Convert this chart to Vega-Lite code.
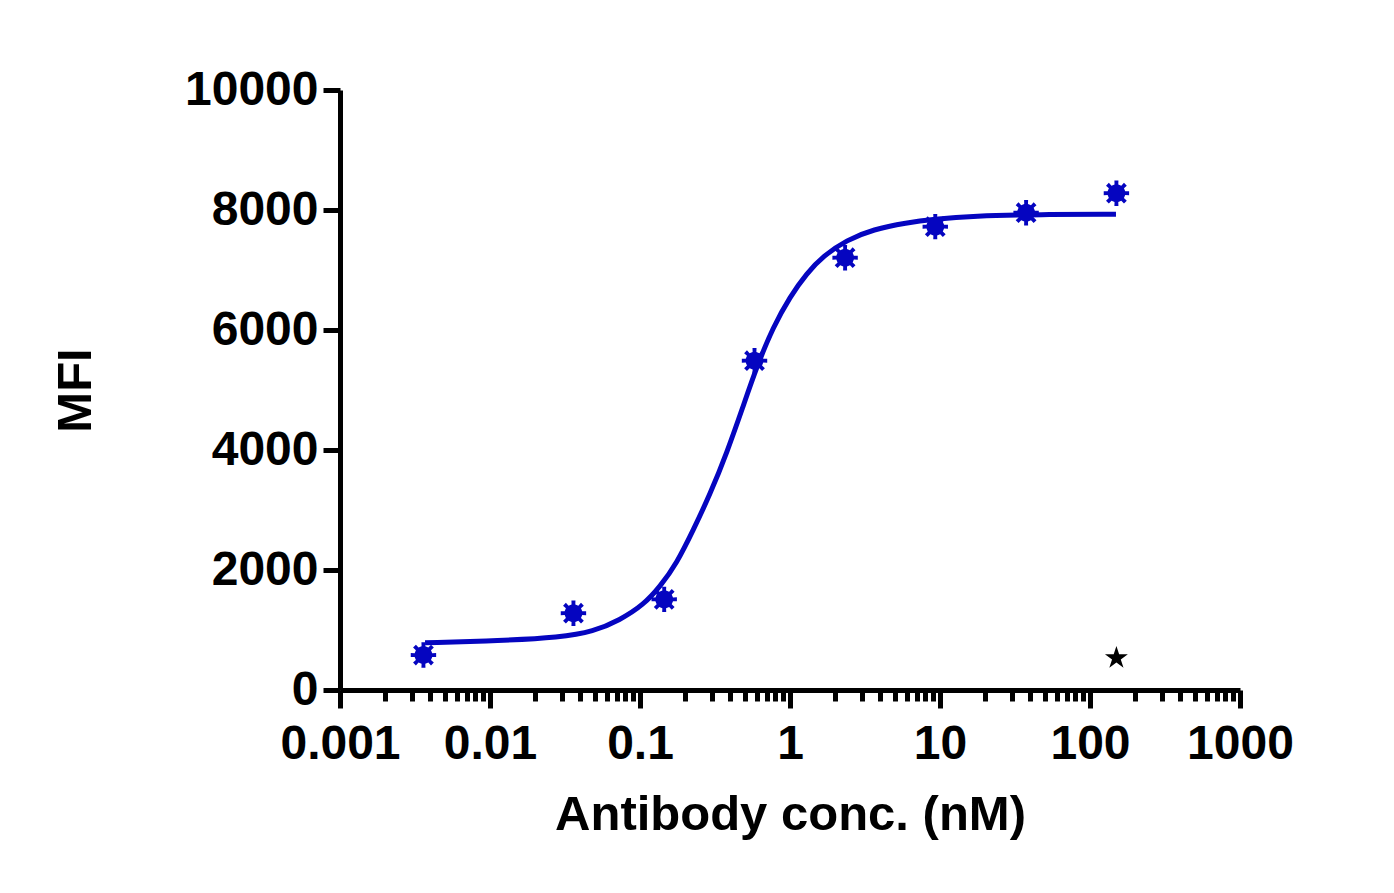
{
  "$schema": "https://vega.github.io/schema/vega-lite/v6.json",
  "width": 900,
  "height": 600,
  "autosize": {"type": "none"},
  "padding": {"left": 340, "top": 90, "right": 154, "bottom": 203},
  "background": "white",
  "config": {
    "view": {"stroke": null},
    "axis": {
      "grid": false,
      "domainColor": "black",
      "domainWidth": 5,
      "tickColor": "black",
      "tickWidth": 5,
      "labelColor": "black",
      "labelFont": "Liberation Sans",
      "labelFontWeight": "bold",
      "labelFontSize": 48,
      "titleColor": "black",
      "titleFont": "Liberation Sans",
      "titleFontWeight": "bold",
      "titleFontSize": 49
    }
  },
  "datasets": {
    "curve": [
      {"conc": 0.00369, "mfi": 788},
      {"conc": 0.01166, "mfi": 822},
      {"conc": 0.0293, "mfi": 878},
      {"conc": 0.04884, "mfi": 972},
      {"conc": 0.07356, "mfi": 1167},
      {"conc": 0.1052, "mfi": 1417},
      {"conc": 0.1359, "mfi": 1722},
      {"conc": 0.1757, "mfi": 2111},
      {"conc": 0.2266, "mfi": 2667},
      {"conc": 0.2929, "mfi": 3260},
      {"conc": 0.3802, "mfi": 3960},
      {"conc": 0.486, "mfi": 4722},
      {"conc": 0.6026, "mfi": 5400},
      {"conc": 0.7738, "mfi": 6055},
      {"conc": 1.0, "mfi": 6555},
      {"conc": 1.292, "mfi": 6945},
      {"conc": 1.667, "mfi": 7235},
      {"conc": 2.388, "mfi": 7500},
      {"conc": 3.592, "mfi": 7678},
      {"conc": 6.0, "mfi": 7788},
      {"conc": 9.0, "mfi": 7845},
      {"conc": 16.68, "mfi": 7900},
      {"conc": 46.4, "mfi": 7925},
      {"conc": 149, "mfi": 7930}
    ],
    "points": [
      {"conc": 0.0036, "mfi": 583},
      {"conc": 0.036, "mfi": 1280},
      {"conc": 0.145, "mfi": 1511},
      {"conc": 0.58, "mfi": 5488},
      {"conc": 2.33, "mfi": 7205},
      {"conc": 9.3, "mfi": 7722},
      {"conc": 37.5, "mfi": 7955},
      {"conc": 150, "mfi": 8280}
    ],
    "control": [
      {"conc": 150, "mfi": 533}
    ]
  },
  "encoding": {
    "x": {
      "field": "conc",
      "type": "quantitative",
      "scale": {"type": "log", "domain": [0.001, 1000], "nice": false},
      "axis": {
        "title": "Antibody conc. (nM)",
        "titlePadding": 22,
        "values": [0.001,0.002,0.003,0.004,0.005,0.006,0.007,0.008,0.009,
                   0.01,0.02,0.03,0.04,0.05,0.06,0.07,0.08,0.09,
                   0.1,0.2,0.3,0.4,0.5,0.6,0.7,0.8,0.9,
                   1,2,3,4,5,6,7,8,9,
                   10,20,30,40,50,60,70,80,90,
                   100,200,300,400,500,600,700,800,900,1000],
        "format": "~g",
        "labelExpr": "abs(log(datum.value)/LN10 - round(log(datum.value)/LN10)) < 1e-6 ? datum.label : ''",
        "labelOverlap": false,
        "labelBound": false,
        "labelFlush": false,
        "labelPadding": 12,
        "tickSize": {"condition": {"test": "abs(log(datum.value)/LN10 - round(log(datum.value)/LN10)) < 1e-6", "value": 18}, "value": 11}
      }
    },
    "y": {
      "field": "mfi",
      "type": "quantitative",
      "scale": {"domain": [0, 10000], "nice": false},
      "axis": {
        "title": "MFI",
        "titlePadding": 84,
        "values": [0, 2000, 4000, 6000, 8000, 10000],
        "format": "d",
        "tickSize": 17,
        "labelPadding": 5,
        "labelOverlap": false,
        "labelFlush": false,
        "labelBound": false
      }
    }
  },
  "layer": [
    {
      "data": {"name": "curve"},
      "mark": {"type": "line", "color": "#0505c0", "strokeWidth": 5, "interpolate": "basis"}
    },
    {
      "data": {"name": "points"},
      "mark": {
        "type": "point",
        "filled": true,
        "color": "#0505c0",
        "opacity": 1,
        "size": 660,
        "shape": "M0.685,-0.146L0.988,-0.156L0.988,0.156L0.685,0.146L0.587,0.381L0.809,0.588L0.588,0.809L0.381,0.587L0.146,0.685L0.156,0.988L-0.156,0.988L-0.146,0.685L-0.381,0.587L-0.588,0.809L-0.809,0.588L-0.587,0.381L-0.685,0.146L-0.988,0.156L-0.988,-0.156L-0.685,-0.146L-0.587,-0.381L-0.809,-0.588L-0.588,-0.809L-0.381,-0.587L-0.146,-0.685L-0.156,-0.988L0.156,-0.988L0.146,-0.685L0.381,-0.587L0.588,-0.809L0.809,-0.588L0.587,-0.381Z"
      }
    },
    {
      "data": {"name": "control"},
      "mark": {
        "type": "point",
        "filled": true,
        "color": "black",
        "opacity": 1,
        "size": 580,
        "shape": "M0,-1L0.225,-0.309L0.951,-0.309L0.363,0.118L0.588,0.809L0,0.382L-0.588,0.809L-0.363,0.118L-0.951,-0.309L-0.225,-0.309Z"
      }
    }
  ]
}
